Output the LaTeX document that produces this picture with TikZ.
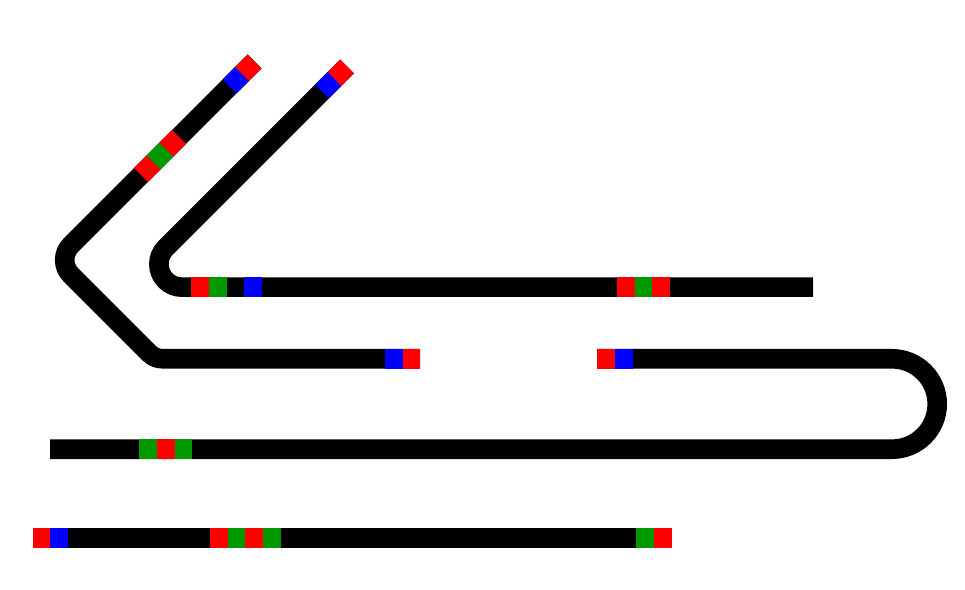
\documentclass[tikz,border=0pt]{standalone}
\tikzstyle{track}=[line width=19.6pt, black]
\tikzstyle{tagR}=[line width=19.6pt, red]
\tikzstyle{tagG}=[line width=19.6pt, green!60!black]
\tikzstyle{tagB}=[line width=19.6pt, blue]

\begin{document}
\begin{tikzpicture}[x=1pt, y=1pt]
	\useasboundingbox (0,0) rectangle (965,589);

	% Tracks
	\draw[track] (347,522.6) -- (165.6,341.1) arc[start angle=135, end angle=270, radius=23] -- (813,301.8);
	\draw[track] (254.6,527.6) -- (70.85,343.85) arc[start angle=135, end angle=225, radius=21]
		-- (149.27,235.77) arc[start angle=225, end angle=270, radius=19] -- (420,230.2);
	\draw[track] (597,230.2) -- (892,230.2) arc[start angle=90, end angle=-90, radius=45.2] -- (50,139.8);
	\draw[track] (32.7,51.2) -- (672,51.2);

	% Markers on the diagonals
	\foreach \a/\b/\c in {322/334.5/tagB, 334.5/347/tagR}{ \draw[\c] (\a,{\a+175.6}) -- (\b,{\b+175.6}); }
	\foreach \a/\b/\c in {229.5/242/tagB, 242/254.6/tagR, 141/153.7/tagR, 153.7/166.4/tagG, 166.4/179/tagR}{ \draw[\c] (\a,{\a+273}) -- (\b,{\b+273}); }

	% Markers on the straight runs
	\foreach \a/\b/\c in {191.2/208.9/tagR, 208.9/226.6/tagG, 244.2/261.9/tagB, 617/634.7/tagR, 634.7/652.4/tagG, 652.4/670.1/tagR}{ \draw[\c] (\a,301.8) -- (\b,301.8); }
	\foreach \a/\b/\c in {385/402.7/tagB, 402.7/420/tagR, 597/615/tagR, 615/633/tagB}{ \draw[\c] (\a,230.2) -- (\b,230.2); }
	\foreach \a/\b/\c in {139/157/tagG, 157/175/tagR, 175/192/tagG}{ \draw[\c] (\a,139.8) -- (\b,139.8); }
	\foreach \a/\b/\c in {32.7/50.4/tagR, 50.4/68/tagB, 210/227.7/tagR, 227.7/245.4/tagG, 245.4/263/tagR, 263/280.7/tagG, 636/654/tagG, 654/672/tagR}{ \draw[\c] (\a,51.2) -- (\b,51.2); }
\end{tikzpicture}
\end{document}
